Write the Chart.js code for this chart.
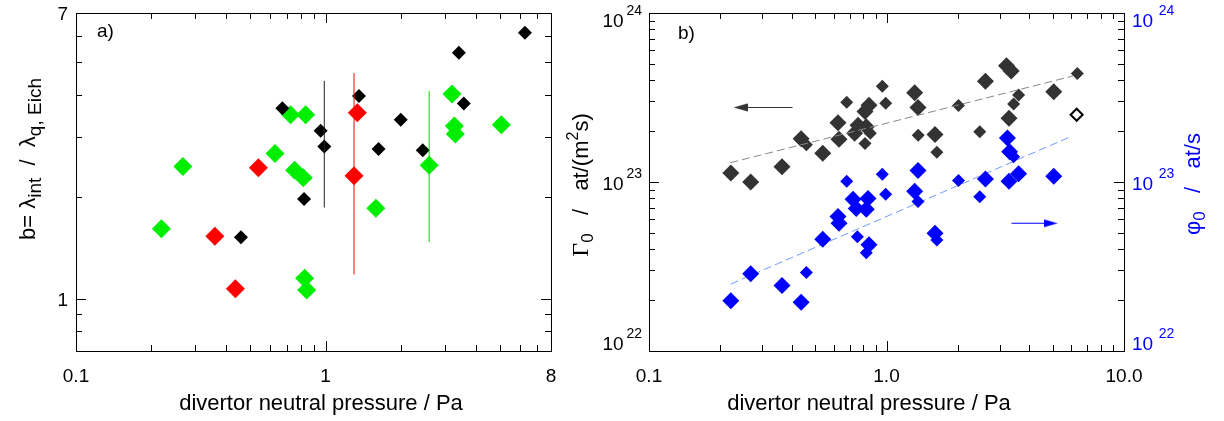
<!DOCTYPE html>
<html>
<head>
<meta charset="utf-8">
<script src="https://cdn.jsdelivr.net/npm/chart.js@4/dist/chart.umd.min.js"></script>
<style>
  body { margin: 0; background: #fff; }
  #wrap { position: relative; width: 1224px; height: 421px; overflow: hidden; }
  #chartA { position: absolute; left: 0; top: 0; }
  #chartB { position: absolute; left: 540px; top: 0; }
</style>
</head>
<body>
<div id="wrap">
  <canvas id="chartA" width="612" height="421"></canvas>
  <canvas id="chartB" width="684" height="421"></canvas>
</div>
<script>
// ---- panel a) : b = lambda_int / lambda_q,Eich vs divertor neutral pressure
var pressA_black = [6.29, 3.42, 3.58, 1.36, 0.671, 0.955, 0.988, 2.0, 1.63, 2.45, 0.82, 0.458]
var bA_black = [6.12, 5.34, 3.78, 3.98, 3.66, 3.14, 2.82, 3.38, 2.77, 2.75, 1.97, 1.52]
var pressA_red = [1.34, 1.30, 0.538, 0.360, 0.435]
var bA_red = [3.55, 2.31, 2.44, 1.53, 1.07]
var pressA_green = [3.21, 5.06, 3.28, 3.31, 2.60, 0.724, 0.832, 0.627, 0.752, 0.814, 0.268, 0.220, 1.59, 0.824, 0.84]
var bA_green = [4.03, 3.27, 3.24, 3.07, 2.48, 3.50, 3.50, 2.69, 2.40, 2.28, 2.46, 1.61, 1.85, 1.15, 1.06]
// error bars (black, red, green)
var errA_press = [0.988, 1.30, 2.60]
var errA_low = [1.86, 1.18, 1.47]
var errA_high = [4.41, 4.65, 4.12]

// ---- panel b) : Gamma_0 (left axis) and phi_0 (right axis)
var pressB_gammaBig = [0.221, 0.268, 0.363, 0.437, 0.539, 0.625, 0.631, 0.734, 0.759, 0.822, 0.844, 0.812, 1.314, 1.357, 1.60, 2.61, 3.20, 3.35, 3.28, 5.06]
var gammaBig = [1.13e23, 1.0e23, 1.23e23, 1.80e23, 1.48e23, 2.24e23, 1.79e23, 1.94e23, 2.17e23, 2.12e23, 2.85e23, 2.61e23, 3.37e23, 2.76e23, 1.91e23, 3.95e23, 4.87e23, 4.53e23, 2.38e23, 3.42e23]
var pressB_gammaSmall = [0.46, 0.680, 0.855, 0.812, 0.96, 0.992, 1.36, 1.63, 2.01, 2.47, 3.60, 3.43, 6.36]
var gammaSmall = [1.66e23, 2.96e23, 1.94e23, 1.69e23, 3.69e23, 2.92e23, 1.89e23, 1.50e23, 2.84e23, 1.98e23, 3.27e23, 2.89e23, 4.39e23]
var pressB_gammaOpen = [6.32]
var gammaOpen = [2.50e23]
var pressB_phiBig = [3.23, 3.30, 3.60, 3.28, 2.61, 5.06, 1.357, 1.314, 0.723, 0.836, 0.746, 0.822, 0.625, 0.631, 0.539, 0.844, 1.60, 0.268, 0.363, 0.221, 0.437]
var phiBig = [1.82e23, 1.51e23, 1.12e23, 1.01e23, 1.04e23, 1.08e23, 1.17e23, 8.81e22, 7.9e22, 8.0e22, 6.98e22, 6.89e22, 6.24e22, 5.70e22, 4.58e22, 4.25e22, 4.98e22, 2.86e22, 2.44e22, 1.98e22, 1.94e22]
var pressB_phiSmall = [3.43, 2.47, 2.01, 1.357, 0.96, 0.992, 0.68, 0.754, 0.822, 1.63, 0.46]
var phiSmall = [1.41e23, 8.19e22, 1.02e23, 7.66e22, 1.11e23, 8.45e22, 1.01e23, 4.75e22, 3.82e22, 4.54e22, 2.91e22]
// fits
var fitGamma_press = [0.22, 6.1]
var fitGamma = [1.30e23, 4.24e23]
var fitPhi_press = [0.221, 5.94]
var fitPhi = [2.49e22, 1.85e23]
// arrows telling which axis
var arrowGamma_press = [0.402, 0.243]
var arrowGamma = [2.76e23, 2.76e23]
var arrowPhi_press = [3.36, 4.91]
var arrowPhi = [5.70e22, 5.70e22]

// ---- ticks
var ticksA_x = [0.2, 0.3, 0.4, 0.5, 0.6, 0.7, 0.8, 0.9, 1, 2, 3, 4, 5, 6, 7]
var ticksA_y = [0.8, 0.9, 1, 2, 3, 4, 5, 6]
var labelsA_x = ['0.1', '1', '8']
var labelsA_xVal = [0.1, 1, 8]
var labelsA_y = ['1', '7']
var labelsA_yVal = [1, 7]
var ticksB_x = [0.2, 0.3, 0.4, 0.5, 0.6, 0.7, 0.8, 0.9, 1, 2, 3, 4, 5, 6, 7, 8, 9]
var ticksB_y = [2e22, 3e22, 4e22, 5e22, 6e22, 7e22, 8e22, 9e22, 1e23, 2e23, 3e23, 4e23, 5e23, 6e23, 7e23, 8e23, 9e23]
var labelsB_x = ['0.1', '1.0', '10.0']
var labelsB_xVal = [0.1, 1, 10]
var labelsB_yExp = ['22', '23', '24']
var labelsB_yVal = [1e22, 1e23, 1e24]

var SANS = '"Liberation Sans", Arial, sans-serif'
var SERIF = '"Liberation Serif", "Times New Roman", serif'

function toPoints (xs, ys) {
  return xs.map(function (x, i) { return { x: x, y: ys[i] } })
}

function isMajor (v) {
  var e = Math.log10(v)
  return Math.abs(e - Math.round(e)) < 1e-6
}

// small pointed arrow head, pointing right
function arrowHead (color) {
  var c = document.createElement('canvas')
  c.width = 14
  c.height = 9
  var g = c.getContext('2d')
  g.fillStyle = color
  g.beginPath()
  g.moveTo(0, 0.5); g.lineTo(14, 4.5); g.lineTo(0, 8.5)
  g.closePath()
  g.fill()
  return c
}

// text made of pieces: [text, font, dy]
function drawRich (ctx, parts, x, y, angle, align, color) {
  ctx.save()
  ctx.translate(x, y)
  ctx.rotate(angle)
  ctx.fillStyle = color
  ctx.textBaseline = 'alphabetic'
  ctx.textAlign = 'left'
  var w = 0
  parts.forEach(function (p) { ctx.font = p[1]; w += ctx.measureText(p[0]).width })
  var cx = align === 'center' ? -w / 2 : (align === 'right' ? -w : 0)
  parts.forEach(function (p) {
    ctx.font = p[1]
    ctx.fillText(p[0], cx, p[2] || 0)
    cx += ctx.measureText(p[0]).width
  })
  ctx.restore()
}

// box, inward ticks and all the texts
var boxPlugin = {
  id: 'boxPlugin',
  afterDraw: function (chart, args, o) {
    var ctx = chart.ctx
    var ar = chart.chartArea
    var xs = chart.scales.x
    var ys = chart.scales[o.yId]
    ctx.save()
    ctx.strokeStyle = '#000'
    ctx.lineWidth = 1
    ctx.beginPath()
    o.xTicks.forEach(function (v) {
      var px = Math.round(xs.getPixelForValue(v)) + 0.5
      var len = isMajor(v) ? 10 : 6
      ctx.moveTo(px, ar.bottom); ctx.lineTo(px, ar.bottom - len)
      ctx.moveTo(px, ar.top); ctx.lineTo(px, ar.top + len)
    })
    o.yTicks.forEach(function (v) {
      var py = Math.round(ys.getPixelForValue(v)) + 0.5
      var len = isMajor(v) ? 10 : 6
      ctx.moveTo(ar.left, py); ctx.lineTo(ar.left + len, py)
      ctx.moveTo(ar.right, py); ctx.lineTo(ar.right - len, py)
    })
    ctx.stroke()
    ctx.strokeRect(Math.round(ar.left) + 0.5, Math.round(ar.top) + 0.5, Math.round(ar.width), Math.round(ar.height))

    ctx.fillStyle = '#000'
    ctx.font = '19px ' + SANS
    ctx.textAlign = 'center'
    ctx.textBaseline = 'alphabetic'
    o.xLabelVals.forEach(function (v, i) {
      ctx.fillText(o.xLabels[i], xs.getPixelForValue(v), ar.bottom + 31)
    })
    if (o.yLabels) {
      ctx.textAlign = 'right'
      o.yLabelVals.forEach(function (v, i) {
        ctx.fillText(o.yLabels[i], ar.left - 8, ys.getPixelForValue(v) + 7)
      })
    }
    if (o.yExp) {
      o.yExpVals.forEach(function (v, i) {
        var py = ys.getPixelForValue(v) + 8
        py = Math.min(Math.max(py, ar.top + 14), ar.bottom - 1)
        drawRich(ctx, [['10', '19px ' + SANS], ['\u2009' + o.yExp[i], '14px ' + SANS, -12]], ar.left - 7, py, 0, 'right', '#000')
        drawRich(ctx, [['10', '19px ' + SANS], ['\u2009\u2009' + o.yExp[i], '14px ' + SANS, -12]], ar.right + 8, py, 0, 'left', '#0000ff')
      })
    }
    ctx.textAlign = 'left'
    ctx.font = '19px ' + SANS
    ctx.fillText(o.panel, o.panelX, o.panelY)
    o.titles.forEach(function (t) {
      drawRich(ctx, t.parts, t.x, t.y, t.rot ? -Math.PI / 2 : 0, 'center', t.color || '#000')
    })
    ctx.restore()
  }
}

function logAxis (min, max, pos, fit) {
  return {
    type: 'logarithmic',
    position: pos,
    min: min,
    max: max,
    ticks: { display: false },
    grid: { display: false },
    border: { display: false },
    afterFit: fit
  }
}

function diamonds (xs, ys, color, r, yAxis) {
  var ds = {
    data: toPoints(xs, ys),
    pointStyle: 'rectRot',
    pointRadius: r,
    pointHoverRadius: r,
    pointBackgroundColor: color,
    pointBorderWidth: 0,
    showLine: false
  }
  if (yAxis) ds.yAxisID = yAxis
  return ds
}

function segment (xs, ys, color, yAxis, dash, headRot) {
  var ds = {
    type: 'line',
    data: toPoints(xs, ys),
    borderColor: color,
    borderWidth: 1,
    borderDash: dash || [],
    pointRadius: headRot === undefined ? 0 : [0, 7],
    pointStyle: headRot === undefined ? 'circle' : arrowHead(color),
    pointRotation: headRot || 0,
    pointBorderWidth: 0,
    fill: false
  }
  if (yAxis) ds.yAxisID = yAxis
  return ds
}

var errorBars = errA_press.map(function (p, i) {
  return segment([p, p], [errA_low[i], errA_high[i]], ['#222', '#ff0000', '#00dd00'][i])
})

new Chart(document.getElementById('chartA'), {
  type: 'scatter',
  data: {
    datasets: errorBars.concat([
      diamonds(pressA_black, bA_black, '#000', 7),
      diamonds(pressA_red, bA_red, '#ff0000', 9.5),
      diamonds(pressA_green, bA_green, '#00ee00', 9.5)
    ])
  },
  options: {
    responsive: false,
    animation: false,
    events: [],
    layout: { padding: { top: 13, right: 61, left: 0, bottom: 0 }, autoPadding: false },
    scales: {
      x: logAxis(0.1, 8, 'bottom', function (s) { s.height = 70 }),
      y: logAxis(0.7, 7, 'left', function (s) { s.width = 76 })
    },
    plugins: {
      legend: { display: false },
      tooltip: { enabled: false },
      boxPlugin: {
        yId: 'y',
        xTicks: ticksA_x,
        yTicks: ticksA_y,
        xLabels: labelsA_x,
        xLabelVals: labelsA_xVal,
        yLabels: labelsA_y,
        yLabelVals: labelsA_yVal,
        panel: 'a)',
        panelX: 97,
        panelY: 37,
        titles: [
          { x: 321, y: 410, parts: [['divertor neutral pressure / Pa', '22px ' + SANS]] },
          { x: 35, y: 159, rot: true,
            parts: [['b= \u03bb', '22px ' + SANS], ['int', '19px ' + SANS, 6], ['  /  \u03bb', '22px ' + SANS], ['q, Eich', '19px ' + SANS, 6]] }
        ]
      }
    }
  },
  plugins: [boxPlugin]
})

new Chart(document.getElementById('chartB'), {
  type: 'scatter',
  data: {
    datasets: [
      segment(arrowGamma_press, arrowGamma, '#333333', 'yL', null, 180),
      segment(arrowPhi_press, arrowPhi, '#0000ff', 'yR', null, 0),
      diamonds(pressB_phiBig, phiBig, '#0000ff', 8.5, 'yR'),
      diamonds(pressB_phiSmall, phiSmall, '#0000ff', 6.5, 'yR'),
      segment(fitPhi_press, fitPhi, '#6f9bff', 'yR', [8, 4]),
      segment(fitGamma_press, fitGamma, '#888', 'yL', [8, 4]),
      diamonds(pressB_gammaBig, gammaBig, '#333333', 8.5, 'yL'),
      diamonds(pressB_gammaSmall, gammaSmall, '#333333', 6.5, 'yL'),
      Object.assign(diamonds(pressB_gammaOpen, gammaOpen, '#fff', 6, 'yL'), { pointBorderColor: '#000', pointBorderWidth: 2 })
    ]
  },
  options: {
    responsive: false,
    animation: false,
    events: [],
    layout: { padding: { top: 13, right: 0, left: 0, bottom: 0 }, autoPadding: false },
    scales: {
      x: logAxis(0.1, 10, 'bottom', function (s) { s.height = 70 }),
      yL: logAxis(1e22, 1e24, 'left', function (s) { s.width = 109 }),
      yR: logAxis(1e22, 1e24, 'right', function (s) { s.width = 100 })
    },
    plugins: {
      legend: { display: false },
      tooltip: { enabled: false },
      boxPlugin: {
        yId: 'yL',
        xTicks: ticksB_x,
        yTicks: ticksB_y,
        xLabels: labelsB_x,
        xLabelVals: labelsB_xVal,
        yExp: labelsB_yExp,
        yExpVals: labelsB_yVal,
        panel: 'b)',
        panelX: 138,
        panelY: 39,
        titles: [
          { x: 329, y: 410, parts: [['divertor neutral pressure / Pa', '22px ' + SANS]] },
          { x: 48, y: 185, rot: true,
            parts: [['\u0393', '24px ' + SERIF], ['0', '17px ' + SANS, 5], ['   /   at/(m', '22px ' + SANS], ['2', '16px ' + SANS, -10], ['s)', '22px ' + SANS]] },
          { x: 660, y: 184, rot: true, color: '#0000ff',
            parts: [['\u03c6', '22px ' + SANS], ['0', '17px ' + SANS, 5], ['   /   at/s', '22px ' + SANS]] }
        ]
      }
    }
  },
  plugins: [boxPlugin]
})
</script>
</body>
</html>
